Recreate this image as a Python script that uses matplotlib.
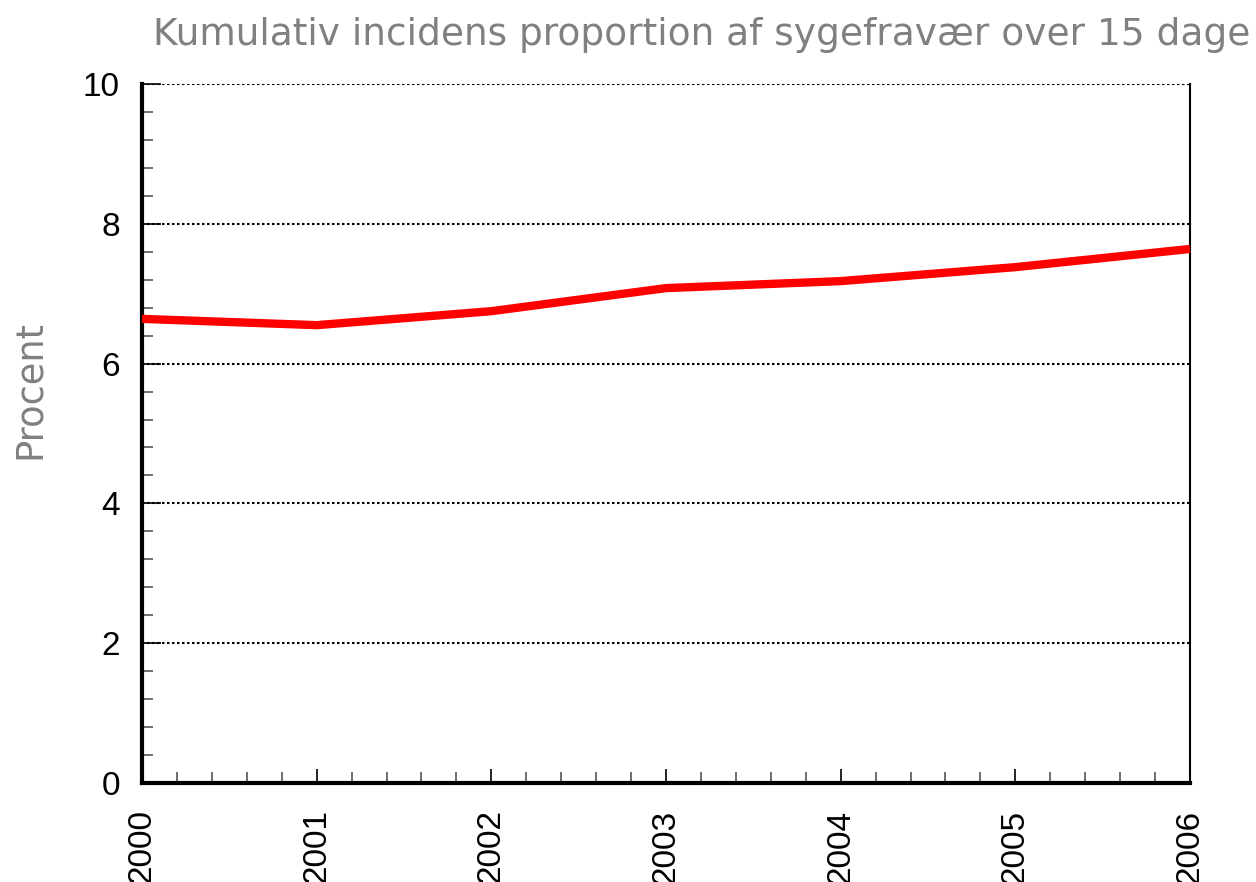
import matplotlib
matplotlib.use("Agg")
import matplotlib.pyplot as plt
from matplotlib.ticker import MultipleLocator

years = [2000, 2001, 2002, 2003, 2004, 2005, 2006]
values = [6.64, 6.55, 6.75, 7.08, 7.18, 7.38, 7.64]
title = "Kumulativ incidens proportion af sygefravær over 15 dage"
ylabel = "Procent"

fig = plt.figure(figsize=(12.56, 8.82), dpi=100)
ax = fig.add_axes([142/1256, 1-783/882, (1190-142)/1256, (783-84)/882])

ax.plot(years, values, color="#ff0000", lw=6, solid_capstyle="butt", zorder=3, clip_on=False)
ax.set_xlim(2000, 2006)
ax.set_ylim(0, 10)
ax.yaxis.set_major_locator(MultipleLocator(2))
ax.yaxis.set_minor_locator(MultipleLocator(0.4))
ax.xaxis.set_major_locator(MultipleLocator(1))
ax.xaxis.set_minor_locator(MultipleLocator(0.2))
ax.grid(axis="y", which="major", color="black", linestyle=(0, (1.2, 1.2)), lw=1.5)
ax.set_axisbelow(True)

for s in ["left", "bottom"]:
    ax.spines[s].set_linewidth(3)
ax.spines["right"].set_linewidth(1.5)
ax.spines["top"].set_visible(False)

ax.tick_params(axis="both", which="major", direction="in", length=8, width=1.2, color="black")
ax.tick_params(axis="both", which="minor", direction="in", length=8, width=1.2, color="#555555")
ax.tick_params(axis="x", which="major", length=10)
ax.tick_params(axis="y", which="major", length=14)
ax.tick_params(axis="y", labelsize=24, pad=16)
ax.tick_params(axis="x", labelsize=24, pad=19)
ax.set_xticks(years)
ax.set_xticklabels([str(y) for y in years], rotation=90, fontfamily="Liberation Sans", fontsize=24)
ax.set_yticks([0, 2, 4, 6, 8, 10])
ax.set_yticklabels(["0", "2", "4", "6", "8", "10"], fontfamily="Liberation Sans", fontsize=24)

fig.text(29/1256, 1-389/882, ylabel, rotation=90, ha="center", va="center",
         fontsize=26.5, color="#808080", fontfamily="DejaVu Sans")
fig.text(702/1256, 1-45/882, title, ha="center", va="baseline", fontsize=27,
         color="#808080", fontfamily="DejaVu Sans")

fig.savefig("out.png", dpi=100)
